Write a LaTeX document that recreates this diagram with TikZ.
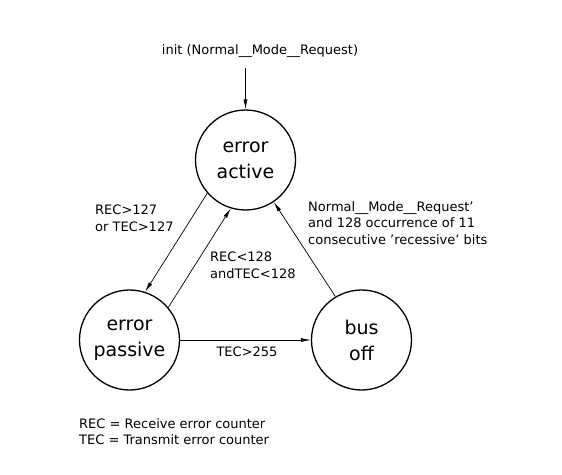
\documentclass[tikz,border=0pt]{standalone}
\usepackage{fontspec}
\setmainfont{DejaVu Sans}
\usepackage{tikz}
\usetikzlibrary{arrows.meta}

\begin{document}
\begin{tikzpicture}[x=1pt,y=-1pt]
                      \tikzstyle{state}=[circle,draw=black,line width=1.3pt,minimum size=100pt,inner sep=0pt,align=center,font=\fontsize{19}{26}\selectfont]
                      \tikzstyle{lbl}=[inner sep=0pt,align=left,font=\fontsize{13}{16.5}\selectfont]
                      \tikzstyle{trans}=[line width=0.7pt,-{Latex[length=10pt,width=4pt]}]
                      \useasboundingbox (0,0) rectangle (562,474);
                      \node [state] (active) at (245.5,160) {error\\active};
                      \node [state] (passive) at (129.5,340) {error\\passive};
                      \node [state] (busoff) at (361.5,340) {bus\\off};
                      \node [lbl] (init) at (260,51) {init (Normal\_\_Mode\_\_Request)};
                      \coordinate (initend) at (245.5,68);
                      \draw [trans] (initend) -- (active.north);
                      \draw [trans] (active.221) -- (passive.72.8);
                      \draw [trans] (passive.40.8) -- (active.253.8);
                      \draw [trans] (busoff.121.6) -- (active.304.5);
                      \draw [trans] (passive.east) -- (busoff.west);
                      \node [lbl, anchor=north west] (toPassive) at (95,205) {REC>127\\or TEC>127};
                      \node [lbl, anchor=north west] (toActive) at (210,252) {REC<128\\andTEC<128};
                      \node [lbl, anchor=north west] (recover) at (308,201) {Normal\_\_Mode\_\_Request'\\and 128 occurrence of 11\\consecutive 'recessive' bits};
                      \node [lbl] (toBusoff) at (247,352) {TEC>255};
                      \node [lbl, anchor=north west] (legend) at (79,418) {REC = Receive error counter\\TEC = Transmit error counter};
                  \end{tikzpicture}
\end{document}
